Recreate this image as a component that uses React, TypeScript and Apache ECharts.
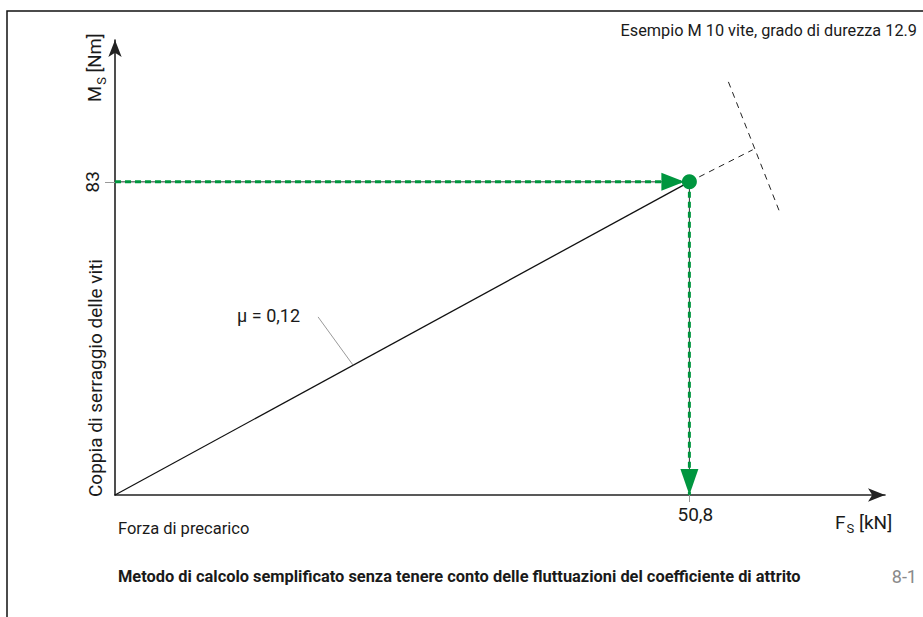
import React, { useEffect, useRef } from 'react';
import * as echarts from 'echarts';

// ---- data ----
const forceValue = 50.8; // kN
const torqueValue = 83; // Nm
const xMax = 68.1;
const yMax = 120.6;
const frictionLine = [[0, 0], [50.8, 83]];
const extensionLine = [[50.8, 83], [56.4, 91.5]];
const limitLine = [[54.25, 109.5], [58.85, 74.5]];
const horizontalGuide = [[0, 83], [50.8, 83]];
const verticalGuide = [[50.8, 83], [50.8, 0]];
const muLeader = [[17.96, 47.2], [21.06, 34.4]];
const muLabelPos = [10.8, 47.7];
const xTickValues = [50.8];
const yTickValues = [83];
const muLabel = 'μ = 0,12';
const exampleText = 'Esempio M 10 vite, grado di durezza 12.9';
const yAxisTitle = 'Coppia di serraggio delle viti';
const xAxisTitle = 'Forza di precarico';
const captionText = 'Metodo di calcolo semplificato senza tenere conto delle fluttuazioni del coefficiente di attrito';
const figureNumber = '8-1';

const GREEN = '#00963f';
const FONT = 'Roboto, "Noto Sans", sans-serif';
const TEXT = '#1a1a1a';

export default function App() {
  const ref = useRef<HTMLDivElement>(null);
  useEffect(() => {
    if (!ref.current) return;
    const chart = echarts.init(ref.current, null, { renderer: 'svg' });
    const fmt = (v: number) => String(v).replace('.', ',');
    const option: any = {
      animation: false,
      backgroundColor: '#ffffff',
      textStyle: { fontFamily: FONT },
      grid: { left: 115, right: 38, top: 40, bottom: 122, containLabel: false },
      xAxis: {
        type: 'value',
        min: 0,
        max: xMax,
        axisLine: {
          show: true,
          symbol: ['none', 'arrow'],
          symbolSize: [10, 17],
          lineStyle: { color: '#222', width: 1.6 },
        },
        axisTick: { show: true, customValues: xTickValues, length: 7, lineStyle: { color: '#999', width: 1 } },
        axisLabel: {
          show: true,
          customValues: xTickValues,
          formatter: fmt,
          margin: 10,
          fontSize: 19,
          color: TEXT,
          fontFamily: FONT,
          padding: [0, 0, 0, 12],
        },
        splitLine: { show: false },
      },
      yAxis: {
        type: 'value',
        min: 0,
        max: yMax,
        axisLine: {
          show: true,
          symbol: ['none', 'arrow'],
          symbolSize: [10, 17],
          lineStyle: { color: '#222', width: 1.6 },
        },
        axisTick: { show: true, customValues: yTickValues, length: 10, lineStyle: { color: '#999', width: 1 } },
        axisLabel: {
          show: true,
          customValues: yTickValues,
          rotate: 90,
          margin: 13,
          fontSize: 19,
          color: TEXT,
          fontFamily: FONT,
        },
        splitLine: { show: false },
      },
      series: [
        {
          type: 'line', data: frictionLine, showSymbol: false, z: 3,
          lineStyle: { color: '#111', width: 1.3 },
        },
        {
          type: 'line', data: extensionLine, showSymbol: false, z: 3,
          lineStyle: { color: '#222', width: 1, type: [6, 5] },
        },
        {
          type: 'line', data: limitLine, showSymbol: false, z: 3,
          lineStyle: { color: '#222', width: 1, type: [6, 5] },
        },
        {
          type: 'line', data: horizontalGuide, showSymbol: false, z: 3,
          lineStyle: { color: '#333', width: 1 },
        },
        {
          type: 'line', data: horizontalGuide, showSymbol: false, z: 4,
          lineStyle: { color: GREEN, width: 3, type: [6, 4] },
        },
        {
          type: 'line', data: verticalGuide, showSymbol: false, z: 3,
          lineStyle: { color: '#333', width: 1 },
        },
        {
          type: 'line', data: verticalGuide, showSymbol: false, z: 4,
          lineStyle: { color: GREEN, width: 3, type: [6, 4] },
        },
        {
          type: 'line', data: muLeader, showSymbol: false, z: 3,
          lineStyle: { color: '#9a9a9a', width: 1 },
        },
        {
          type: 'scatter', z: 6, data: [[forceValue, torqueValue]],
          symbol: 'circle', symbolSize: 15, itemStyle: { color: GREEN, opacity: 1 },
        },
        {
          type: 'scatter', z: 6, data: [[forceValue, torqueValue]],
          symbol: 'triangle', symbolSize: [18, 23], symbolRotate: -90, symbolOffset: [-16.5, 0],
          itemStyle: { color: GREEN, opacity: 1 },
        },
        {
          type: 'scatter', z: 6, data: [[forceValue, 0]],
          symbol: 'triangle', symbolSize: [18, 26], symbolRotate: 180, symbolOffset: [0, -13],
          itemStyle: { color: GREEN, opacity: 1 },
        },
        {
          type: 'scatter', z: 6, data: [muLabelPos],
          symbolSize: 1, itemStyle: { color: 'rgba(0,0,0,0)', opacity: 1 },
          label: {
            show: true, position: 'inside', align: 'left', verticalAlign: 'middle', formatter: muLabel,
            fontSize: 18, color: TEXT, opacity: 1, fontFamily: FONT,
          },
        },
      ],
      graphic: [
        {
          type: 'rect', z: 0, silent: true,
          shape: { x: 7, y: 11, width: 1000, height: 800 },
          style: { fill: 'none', stroke: '#111', lineWidth: 1.5 },
        },
        {
          type: 'text', x: 917, y: 30, z: 10,
          style: { text: exampleText, align: 'right', verticalAlign: 'middle', fontSize: 16.3, fill: TEXT, fontFamily: FONT },
        },
        {
          type: 'text', x: 95, y: 102, rotation: Math.PI / 2, z: 10,
          style: {
            text: '{m|M}{s|S}{m| [Nm]}', align: 'left', verticalAlign: 'middle', fill: TEXT, fontFamily: FONT,
            rich: {
              m: { fontSize: 18.5, fill: TEXT, fontFamily: FONT },
              s: { fontSize: 13, fill: TEXT, fontFamily: FONT, padding: [13, 0, 0, 1] },
            },
          },
        },
        {
          type: 'text', x: 95, y: 497, rotation: Math.PI / 2, z: 10,
          style: { text: yAxisTitle, align: 'left', verticalAlign: 'middle', fontSize: 19, fill: TEXT, fontFamily: FONT },
        },
        {
          type: 'text', x: 118, y: 528, z: 10,
          style: { text: xAxisTitle, align: 'left', verticalAlign: 'middle', fontSize: 16.5, fill: TEXT, fontFamily: FONT },
        },
        {
          type: 'text', x: 835, y: 522, z: 10,
          style: {
            text: '{m|F}{s|S}{m| [kN]}', align: 'left', verticalAlign: 'middle', fill: TEXT, fontFamily: FONT,
            rich: {
              m: { fontSize: 19, fill: TEXT, fontFamily: FONT },
              s: { fontSize: 13, fill: TEXT, fontFamily: FONT, padding: [13, 0, 0, 1] },
            },
          },
        },
        {
          type: 'text', x: 118, y: 576, z: 10,
          style: { text: captionText, align: 'left', verticalAlign: 'middle', fontSize: 16.4, fontWeight: 'bold', fill: TEXT, fontFamily: FONT },
        },
        {
          type: 'text', x: 917, y: 576, z: 10,
          style: { text: figureNumber, align: 'right', verticalAlign: 'middle', fontSize: 18, fill: '#8a8a8a', fontFamily: FONT },
        },
      ],
    };
    chart.setOption(option);
    return () => chart.dispose();
  }, []);
  return (
    <div
      ref={ref}
      style={{ position: 'fixed', left: 0, top: 0, width: 923, height: 617 }}
    />
  );
}
